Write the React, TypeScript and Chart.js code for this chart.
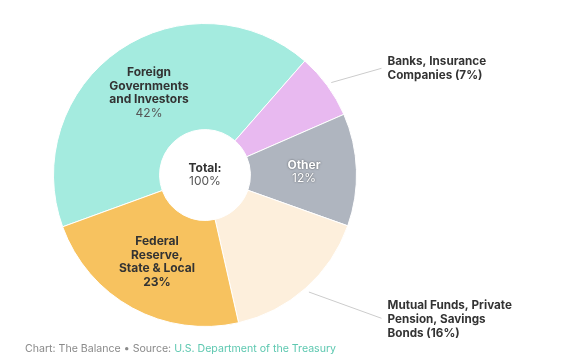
import React, { useEffect, useRef } from "react";
import { Chart, registerables } from "chart.js";

Chart.register(...registerables);

const categories = [
  "Foreign Governments and Investors",
  "Banks, Insurance Companies",
  "Other",
  "Mutual Funds, Private Pension, Savings Bonds",
  "Federal Reserve, State & Local",
];
const shares = [42, 7, 12, 16, 23];
const colors = ["#a4ebdf", "#e8b9f0", "#afb5bf", "#fdefdc", "#f7c25f"];

const FONT = "Inter, 'Open Sans', sans-serif";
const DARK = "#333333";

type Line = { t: string; bold: boolean };
const inLabels: { x: number; y: number; lines: Line[]; white?: boolean }[] = [
  {
    x: 149,
    y: 72.5,
    lines: [
      { t: "Foreign", bold: true },
      { t: "Governments", bold: true },
      { t: "and Investors", bold: true },
      { t: "42%", bold: false },
    ],
  },
  {
    x: 157,
    y: 241.5,
    lines: [
      { t: "Federal", bold: true },
      { t: "Reserve,", bold: true },
      { t: "State & Local", bold: true },
      { t: "23%", bold: true },
    ],
  },
  {
    x: 304,
    y: 165,
    white: true,
    lines: [
      { t: "Other", bold: true },
      { t: "12%", bold: false },
    ],
  },
  {
    x: 205,
    y: 168,
    lines: [
      { t: "Total:", bold: true },
      { t: "100%", bold: false },
    ],
  },
];

const outLabels: { idx: number; endX: number; endY: number; textY: number; lines: string[] }[] = [
  { idx: 1, endX: 381.5, endY: 68.3, textY: 61.7, lines: ["Banks, Insurance", "Companies (7%)"] },
  { idx: 3, endX: 381.5, endY: 318.3, textY: 305, lines: ["Mutual Funds, Private", "Pension, Savings", "Bonds (16%)"] },
];

const labelPlugin = {
  id: "labelPlugin",
  afterDraw(chart: any) {
    const ctx = chart.ctx as CanvasRenderingContext2D;
    const meta = chart.getDatasetMeta(0);
    ctx.save();
    ctx.textBaseline = "middle";
    for (const lab of inLabels) {
      ctx.textAlign = "center";
      lab.lines.forEach((ln, i) => {
        ctx.font = `${ln.bold ? "bold " : ""}12px ${FONT}`;
        const y = lab.y + i * 13.6;
        if (lab.white) {
          ctx.save();
          ctx.shadowColor = "rgba(0,0,0,0.55)";
          ctx.shadowBlur = 2;
          ctx.fillStyle = "#ffffff";
          ctx.fillText(ln.t, lab.x, y);
          ctx.restore();
        } else {
          ctx.fillStyle = ln.bold ? DARK : "#555555";
          ctx.fillText(ln.t, lab.x, y);
        }
      });
    }
    for (const ol of outLabels) {
      const arc = meta.data[ol.idx] as any;
      const mid = (arc.startAngle + arc.endAngle) / 2;
      const r = arc.outerRadius + 5;
      const sx = arc.x + Math.cos(mid) * r;
      const sy = arc.y + Math.sin(mid) * r;
      ctx.strokeStyle = "#cccccc";
      ctx.lineWidth = 1;
      ctx.beginPath();
      ctx.moveTo(sx, sy);
      ctx.lineTo(ol.endX, ol.endY);
      ctx.stroke();
      ctx.textAlign = "left";
      ctx.fillStyle = DARK;
      ctx.font = `bold 11.7px ${FONT}`;
      ol.lines.forEach((t, i) => ctx.fillText(t, ol.endX + 6, ol.textY + i * 14));
    }
    ctx.textAlign = "left";
    ctx.font = `10.6px ${FONT}`;
    const a = "Chart: The Balance \u2022 Source: ";
    ctx.fillStyle = "#8a8a8a";
    ctx.fillText(a, 25, 349);
    const w = ctx.measureText(a).width;
    ctx.fillStyle = "#5dc8b0";
    ctx.fillText("U.S. Department of the Treasury", 25 + w, 349);
    ctx.restore();
  },
};

export default function App() {
  const ref = useRef<HTMLCanvasElement | null>(null);
  useEffect(() => {
    if (!ref.current) return;
    const chart = new Chart(ref.current, {
      type: "doughnut",
      data: {
        labels: categories,
        datasets: [
          {
            data: shares,
            backgroundColor: colors,
            borderColor: "#ffffff",
            borderWidth: 1,
          },
        ],
      },
      options: {
        animation: false,
        responsive: false,
        rotation: -110,
        cutout: "30%",
        layout: { padding: { left: 53, top: 23, right: 217, bottom: 35 } },
        plugins: { legend: { display: false }, tooltip: { enabled: false } },
      },
      plugins: [labelPlugin],
    });
    return () => chart.destroy();
  }, []);
  return (
    <div style={{ position: "fixed", left: 0, top: 0, width: 574, height: 362, background: "#fff" }}>
      <canvas ref={ref} width={574} height={362} style={{ width: 574, height: 362 }} />
    </div>
  );
}
